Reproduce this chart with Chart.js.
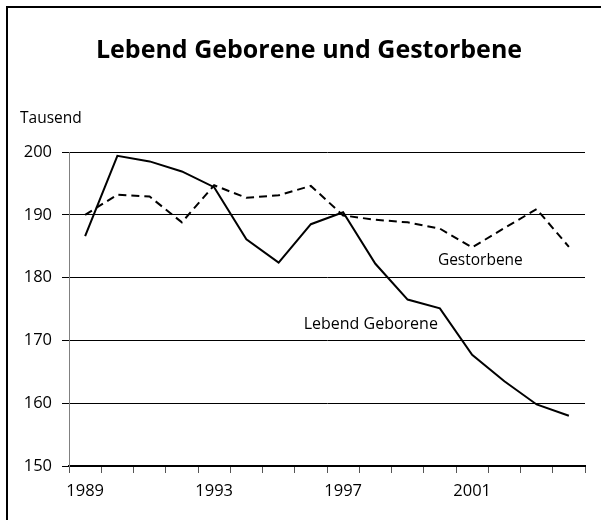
<!DOCTYPE html>
<html>
<head>
<meta charset="utf-8">
<script src="https://cdn.jsdelivr.net/npm/chart.js@4"></script>
<style>
  html, body { margin: 0; padding: 0; background: #fff; }
  #wrap { position: relative; width: 601px; height: 520px; overflow: hidden; }
  #frame { position: absolute; left: 6px; top: 6px; width: 700px; height: 700px;
           border-left: 2px solid #000; border-top: 2px solid #000; box-sizing: border-box; }
  canvas { position: absolute; left: 0; top: 0; }
</style>
</head>
<body>
<div id="wrap">
  <div id="frame"></div>
  <canvas id="c" width="601" height="520"></canvas>
</div>
<script>
const years = ['1989','1990','1991','1992','1993','1994','1995','1996','1997','1998','1999','2000','2001','2002','2003','2004'];
const lebendGeborene = [186.6, 199.4, 198.5, 196.9, 194.4, 186.1, 182.4, 188.5, 190.4, 182.2, 176.5, 175.1, 167.7, 163.5, 159.8, 158.0];
const gestorbene     = [190.0, 193.2, 192.9, 188.8, 194.7, 192.7, 193.1, 194.6, 189.9, 189.2, 188.8, 187.8, 184.8, 187.9, 190.9, 184.9];
const shownYearLabels = ['1989','1993','1997','2001'];
const yTicks = [150, 160, 170, 180, 190, 200];
const titleText = 'Lebend Geborene und Gestorbene';
const unitText = 'Tausend';
const seriesNames = ['Lebend Geborene', 'Gestorbene'];

const FONT = '"Open Sans", "Noto Sans", sans-serif';

const textPlugin = {
  id: 'texts',
  afterDraw(chart) {
    const ctx = chart.ctx;
    const xs = chart.scales.x, ys = chart.scales.y;
    ctx.save();
    ctx.fillStyle = '#000';
    ctx.textBaseline = 'alphabetic';
    // title
    ctx.font = 'bold 25px ' + FONT;
    ctx.textAlign = 'center';
    ctx.fillText(titleText, 309, 58);
    // unit
    ctx.font = '15.5px ' + FONT;
    ctx.textAlign = 'left';
    ctx.fillText(unitText, 20, 123);
    // series labels, anchored on scales
    ctx.textBaseline = 'middle';
    ctx.font = '16px ' + FONT;
    ctx.textAlign = 'right';
    ctx.fillText(seriesNames[0], xs.getPixelForValue(11) - 2, ys.getPixelForValue(172.6));
    ctx.font = '15.5px ' + FONT;
    ctx.textAlign = 'left';
    ctx.fillText(seriesNames[1], xs.getPixelForValue(11) - 2, ys.getPixelForValue(182.7));
    ctx.restore();
  }
};

new Chart(document.getElementById('c'), {
  type: 'line',
  data: {
    labels: years,
    datasets: [
      { label: seriesNames[0], data: lebendGeborene, borderColor: '#000', borderWidth: 2,
        pointRadius: 0, tension: 0, fill: false },
      { label: seriesNames[1], data: gestorbene, borderColor: '#000', borderWidth: 2,
        borderDash: [8, 5], pointRadius: 0, tension: 0, fill: false }
    ]
  },
  options: {
    responsive: false,
    animation: false,
    devicePixelRatio: 1,
    layout: { padding: { top: 152, right: 16, bottom: 0, left: 0 } },
    plugins: { legend: { display: false }, title: { display: false }, tooltip: { enabled: false } },
    scales: {
      x: {
        type: 'category',
        offset: true,
        grid: { offset: true, drawOnChartArea: false, drawTicks: true, tickLength: 7, color: '#555', lineWidth: 1 },
        border: { color: '#000', width: 2 },
        ticks: {
          autoSkip: false, maxRotation: 0, padding: 8,
          color: '#000', font: { family: FONT, size: 16.5 },
          callback: function(v, i) { const l = this.getLabelForValue(v); return shownYearLabels.includes(l) ? l : ''; }
        },
        afterFit(s) { s.height = 54; }
      },
      y: {
        min: 150, max: 200,
        afterBuildTicks(s) { s.ticks = yTicks.map(v => ({ value: v })); },
        grid: { color: '#000', lineWidth: 1, tickLength: 7, drawTicks: true },
        border: { color: '#808080', width: 1 },
        ticks: { padding: 10, color: '#000', font: { family: FONT, size: 16.5 } },
        afterFit(s) { s.width = 69; }
      }
    }
  },
  plugins: [textPlugin]
});
</script>
</body>
</html>
